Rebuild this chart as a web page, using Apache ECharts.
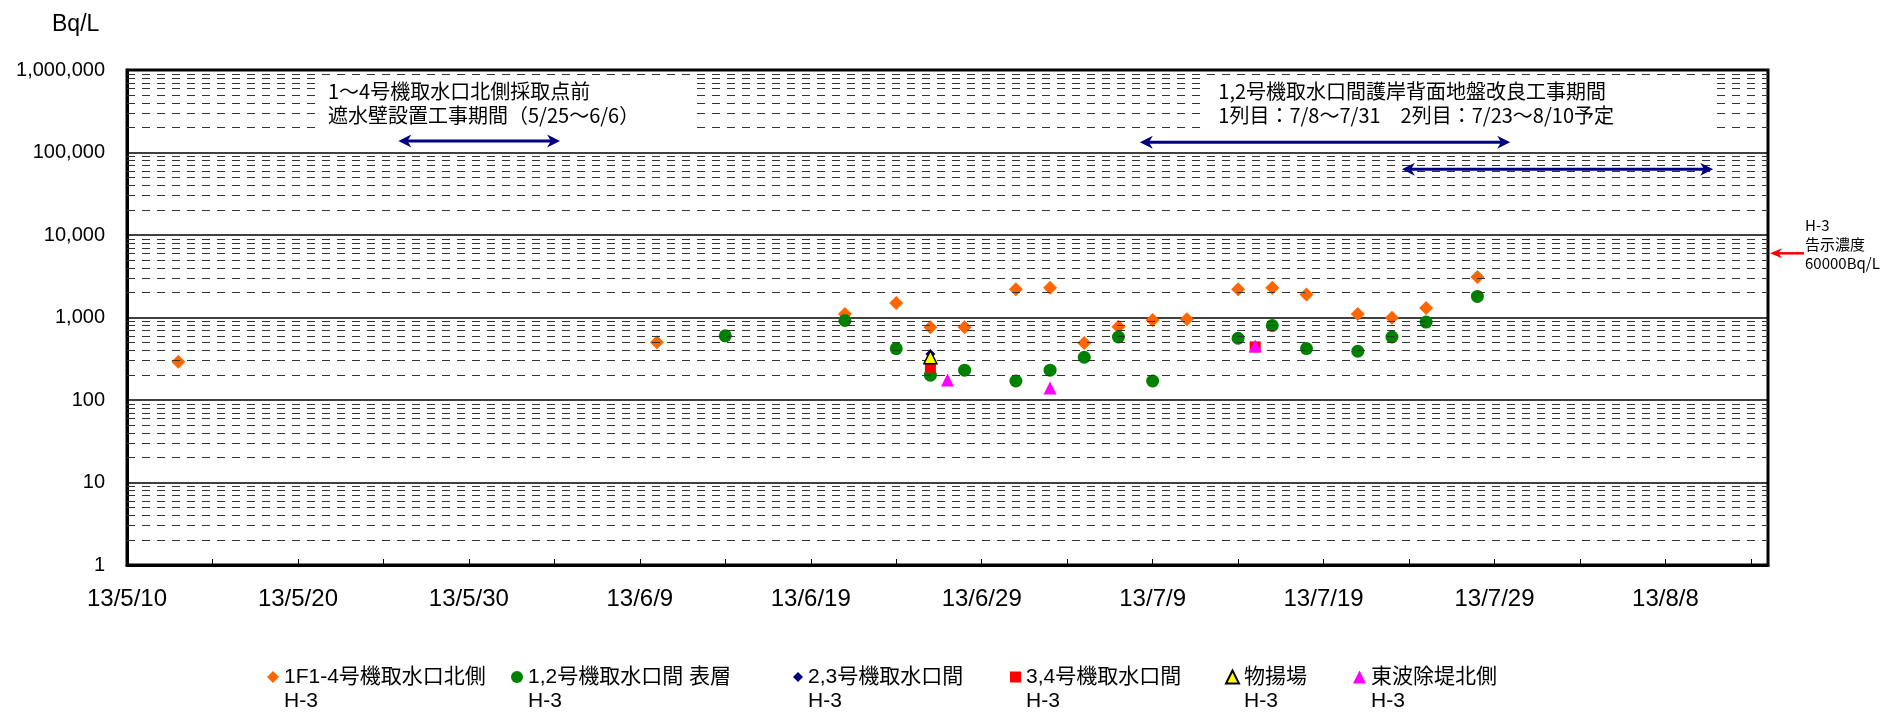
<!DOCTYPE html>
<html><head><meta charset="utf-8">
<script src="https://cdn.jsdelivr.net/npm/echarts@6/dist/echarts.min.js"></script>
<style>html,body{margin:0;padding:0;background:#fff}#c{width:1892px;height:712px}</style>
</head><body><div id="c"></div>
<script>
// ---------------- data ----------------
const xMinDate = '2013-05-10';
const xMaxDate = '2013-08-14';
const seriesNames = [
  '1F1-4号機取水口北側\nH-3',
  '1,2号機取水口間 表層\nH-3',
  '2,3号機取水口間\nH-3',
  '3,4号機取水口間\nH-3',
  '物揚場\nH-3',
  '東波除堤北側\nH-3'
];
const s1Dates = ['2013-05-13','2013-06-10','2013-06-21','2013-06-24','2013-06-26','2013-06-28','2013-07-01','2013-07-03','2013-07-05','2013-07-07','2013-07-09','2013-07-11','2013-07-14','2013-07-16','2013-07-18','2013-07-21','2013-07-23','2013-07-25','2013-07-28'];
const s1Values = [290,500,1100,1500,760,760,2200,2300,490,770,930,950,2200,2300,1900,1100,990,1300,3100];
const s2Dates = ['2013-06-14','2013-06-21','2013-06-24','2013-06-26','2013-06-28','2013-07-01','2013-07-03','2013-07-05','2013-07-07','2013-07-09','2013-07-14','2013-07-16','2013-07-18','2013-07-21','2013-07-23','2013-07-25','2013-07-28'];
const s2Values = [600,920,420,200,230,170,230,330,580,170,560,800,420,390,580,880,1800];
const s3Dates = ['2013-06-26'];
const s3Values = [360];
const s4Dates = ['2013-06-26','2013-07-15'];
const s4Values = [250,440];
const s5Dates = ['2013-06-26'];
const s5Values = [330];
const s6Dates = ['2013-06-27','2013-07-03','2013-07-15'];
const s6Values = [175,140,450];

const minorMultipliers = [2,3,4,5,6,7,8,9];
const decades = [1,10,100,1000,10000,100000];

// annotations (data space)
const noteBoxes = [
  {x0:'2013-05-21T07:00:00Z', x1:'2013-06-12T06:00:00Z', yTop:845000, yBottom:107000, textDx:8,
   lines:['1～4号機取水口北側採取点前','遮水壁設置工事期間（5/25～6/6）']},
  {x0:'2013-07-12T02:00:00Z', x1:'2013-08-10T23:00:00Z', yTop:845000, yBottom:107000, textDx:13,
   lines:['1,2号機取水口間護岸背面地盤改良工事期間','1列目：7/8～7/31　2列目：7/23～8/10予定']}
];
const rangeArrows = [
  {x0:'2013-05-25T21:00:00Z', x1:'2013-06-04T08:00:00Z', y:138000},
  {x0:'2013-07-08T06:00:00Z', x1:'2013-07-29T22:00:00Z', y:133000},
  {x0:'2013-07-23T14:00:00Z', x1:'2013-08-10T19:00:00Z', y:62500}
];
const limitValue = 6000;
const limitLines = ['H-3','告示濃度','60000Bq/L'];

// ---------------- chart ----------------
const DAY = 86400000;
const ts = s => Date.parse(s.length === 10 ? s + 'T00:00:00Z' : s);
const xMin = ts(xMinDate), xMax = ts(xMaxDate);
const pts = (d, v) => d.map((x, i) => [ts(x), v[i]]);

const styles = [
  {symbol:'diamond', size:14, color:'#FF6600', lsize:12},
  {symbol:'circle', size:13, color:'#008000', lsize:12},
  {symbol:'diamond', size:10, color:'#000080', lsize:10},
  {symbol:'rect', size:11, color:'#FF0000', lsize:11},
  {symbol:'triangle', size:13, color:'#FFFF00', border:'#000', bw:1.5, lsize:13},
  {symbol:'triangle', size:13, color:'#FF00FF', lsize:13}
];
const legendLeft = [262, 506, 788, 1005, 1220, 1348];
const allData = [pts(s1Dates,s1Values), pts(s2Dates,s2Values), pts(s3Dates,s3Values),
                 pts(s4Dates,s4Values), pts(s5Dates,s5Values), pts(s6Dates,s6Values)];

const minorLineData = [];
decades.forEach(d => minorMultipliers.forEach(m => minorLineData.push({yAxis: d * m})));

const series = [{
  type:'scatter', name:'_grid', data:[], z:1, silent:true,
  markLine:{silent:true, symbol:['none','none'], animation:false, label:{show:false},
    lineStyle:{type:[8,7], color:'#333', width:1}, emphasis:{disabled:true},
    data:minorLineData}
}];
styles.forEach((s, i) => {
  series.push({
    type:'scatter', name:seriesNames[i], data:allData[i], symbol:s.symbol, symbolSize:s.size,
    z:3 + i, animation:false,
    itemStyle:{color:s.color, borderColor:s.border || s.color, borderWidth:s.bw || 0, opacity:1}
  });
});

const font = "'Liberation Sans', 'Noto Sans CJK JP', sans-serif";

const legends = seriesNames.map((n, i) => ({
  left:legendLeft[i], top:636, itemWidth:styles[i].lsize, itemHeight:styles[i].lsize, selectedMode:false,
  data:[{name:n, icon:styles[i].symbol}],
  formatter:name => '\n' + name,
  textStyle:{fontFamily:font, fontSize:21, color:'#000', lineHeight:24}
}));

const option = {
  animation:false,
  backgroundColor:'#fff',
  grid:{left:127, right:124, top:70, bottom:147, show:true, borderColor:'#000', borderWidth:3, backgroundColor:'transparent'},
  title:{text:'Bq/L', left:47, top:8, textStyle:{fontFamily:font, fontSize:23, fontWeight:'normal', color:'#000'}},
  xAxis:{type:'value', min:xMin, max:xMax, interval:5*DAY,
    axisLine:{show:true, lineStyle:{color:'#000', width:3}},
    axisTick:{show:true, inside:true, length:6, lineStyle:{color:'#000', width:1}},
    splitLine:{show:false},
    axisLabel:{margin:22, fontFamily:font, fontSize:24, color:'#000',
      formatter:v => {
        const d = Math.round((v - xMin) / DAY);
        if (d % 10 !== 0 || v > xMax - DAY) return '';
        const dt = new Date(v);
        return String(dt.getUTCFullYear()).slice(2) + '/' + (dt.getUTCMonth()+1) + '/' + dt.getUTCDate();
      }}
  },
  yAxis:{type:'log', logBase:10, min:1, max:1000000,
    axisLine:{show:true, lineStyle:{color:'#000', width:3}},
    axisTick:{show:false},
    splitLine:{show:true, lineStyle:{color:'#000', width:1.5}},
    axisLabel:{margin:22, fontFamily:font, fontSize:20, color:'#000',
      formatter:v => Math.round(v).toLocaleString('en-US')}
  },
  legend:legends,
  series:series
};

const chart = echarts.init(document.getElementById('c'), null, {renderer:'canvas'});
chart.setOption(option);

// annotations positioned through the chart's own scales
const P = (x, y) => chart.convertToPixel({gridIndex:0}, [x, y]);
const g = [];
noteBoxes.forEach(b => {
  const a = P(ts(b.x0), b.yTop), c = P(ts(b.x1), b.yBottom);
  g.push({type:'rect', z:10, shape:{x:a[0], y:a[1], width:c[0]-a[0], height:c[1]-a[1]}, style:{fill:'#fff'}});
  g.push({type:'text', z:11, x:a[0] + b.textDx, y:a[1] + 3,
    style:{text:b.lines.join('\n'), font:"20px 'Noto Sans CJK JP', sans-serif", fill:'#000', lineHeight:24, verticalAlign:'top'}});
});
function arrowHead(tipX, tipY, dir, len, half, color) {
  return {type:'polygon', z:12, shape:{points:[[tipX, tipY],[tipX - dir*len, tipY - half],[tipX - dir*len*0.7, tipY],[tipX - dir*len, tipY + half]]},
    style:{fill:color}};
}
rangeArrows.forEach(r => {
  const a = P(ts(r.x0), r.y), c = P(ts(r.x1), r.y);
  g.push({type:'line', z:12, shape:{x1:a[0] + 8, y1:a[1], x2:c[0] - 8, y2:c[1]}, style:{stroke:'#000080', lineWidth:3}});
  g.push(arrowHead(a[0], a[1], -1, 13, 6.5, '#000080'));
  g.push(arrowHead(c[0], c[1], 1, 13, 6.5, '#000080'));
});
// limit arrow on the right
const lim = P(xMax, limitValue);
const tipX = lim[0] + 2;
g.push({type:'line', z:12, shape:{x1:tipX + 8, y1:lim[1], x2:tipX + 34, y2:lim[1]}, style:{stroke:'#FF0000', lineWidth:2.5}});
g.push(arrowHead(tipX, lim[1], -1, 12, 5, '#FF0000'));
g.push({type:'text', z:12, x:tipX + 35, y:lim[1] - 9,
  style:{text:limitLines.join('\n'), font:"15px 'Noto Sans CJK JP', sans-serif", fill:'#000', lineHeight:19, verticalAlign:'middle'}});
chart.setOption({graphic:g});
</script></body></html>
